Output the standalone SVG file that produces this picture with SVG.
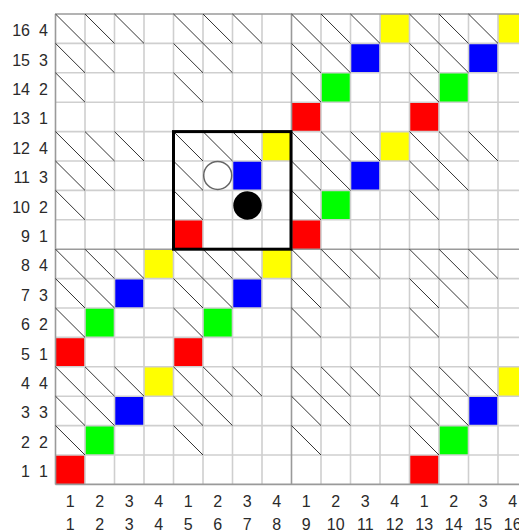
<svg xmlns="http://www.w3.org/2000/svg" xmlns:xlink="http://www.w3.org/1999/xlink" width="519" height="532" viewBox="0 0 519 532">
<style>
.lbl{font-family:"Liberation Sans",Arial,sans-serif;font-size:16px;fill:#2a2a2a}
.ns{vector-effect:non-scaling-stroke;fill:none}
.thin{stroke:#cfcfcf;stroke-width:1.6}
.thick{stroke:#9a9a9a;stroke-width:1.6}
.diag{stroke:#333;stroke-width:1}
.r{fill:#ff0000}.g{fill:#00ff00}.b{fill:#0000ff}.y{fill:#ffff00}
</style>
<defs>
<path id="tri" class="ns diag" d="M0 0l1 1M1 0l1 1M2 0l1 1M0 1l1 1M1 1l1 1M0 2l1 1"/>
<path id="tri2" class="ns diag" d="M0 0l1 1M1 0l1 1M2 0l1 1M0 1l1 1M0 2l1 1"/>
<g id="anti"><rect class="r" x="0" y="3" width="1" height="1"/><rect class="g" x="1" y="2" width="1" height="1"/><rect class="b" x="2" y="1" width="1" height="1"/><rect class="y" x="3" y="0" width="1" height="1"/></g>
</defs>
<rect width="519" height="532" fill="#fff"/>
<g id="board" transform="translate(55.5,14) scale(29.5,29.4)">
<g id="colored-cells">
<use xlink:href="#anti" x="0" y="12"/>
<use xlink:href="#anti" x="0" y="8"/>
<use xlink:href="#anti" x="4" y="8"/>
<use xlink:href="#anti" x="8" y="4"/>
<use xlink:href="#anti" x="8" y="0"/>
<use xlink:href="#anti" x="12" y="0"/>
<use xlink:href="#anti" x="12" y="12"/>
<rect class="r" x="4" y="7" width="1" height="1"/>
<rect class="b" x="6" y="5" width="1" height="1"/>
<rect class="y" x="7" y="4" width="1" height="1"/>
</g>
<g id="grid">
<path class="ns thin" d="M1 0V16M2 0V16M3 0V16M4 0V16M5 0V16M6 0V16M7 0V16M9 0V16M10 0V16M11 0V16M12 0V16M13 0V16M14 0V16M15 0V16M0 1H16M0 2H16M0 3H16M0 4H16M0 5H16M0 6H16M0 7H16M0 9H16M0 10H16M0 11H16M0 12H16M0 13H16M0 14H16M0 15H16"/>
<path class="ns thick" d="M0 0V16M8 0V16M16 0V16M0 0H16M0 8H16M0 16H16"/>
</g>
<g id="diagonals">
<use xlink:href="#tri" x="0" y="0"/><use xlink:href="#tri" x="4" y="0"/><use xlink:href="#tri" x="8" y="0"/><use xlink:href="#tri" x="12" y="0"/>
<use xlink:href="#tri" x="0" y="4"/><use xlink:href="#tri2" x="4" y="4"/><use xlink:href="#tri" x="8" y="4"/><use xlink:href="#tri" x="12" y="4"/>
<use xlink:href="#tri" x="0" y="8"/><use xlink:href="#tri" x="4" y="8"/><use xlink:href="#tri" x="8" y="8"/><use xlink:href="#tri" x="12" y="8"/>
<use xlink:href="#tri" x="0" y="12"/><use xlink:href="#tri" x="4" y="12"/><use xlink:href="#tri" x="8" y="12"/><use xlink:href="#tri" x="12" y="12"/>
</g>
</g>
<g id="highlight-box"><rect x="173.5" y="131.6" width="117.5" height="117.6" fill="none" stroke="#000" stroke-width="3"/></g>
<g id="white-stone"><circle cx="217.7" cy="175.4" r="14" fill="#fff" stroke="#666" stroke-width="1.5"/></g>
<g id="black-stone"><circle cx="247.5" cy="205.5" r="14.2" fill="#000"/></g>
<g id="row-labels" class="lbl" text-anchor="end">
<text x="30" y="36.2">16</text><text x="48" y="36.2">4</text>
<text x="30" y="65.6">15</text><text x="48" y="65.6">3</text>
<text x="30" y="95">14</text><text x="48" y="95">2</text>
<text x="30" y="124.4">13</text><text x="48" y="124.4">1</text>
<text x="30" y="153.8">12</text><text x="48" y="153.8">4</text>
<text x="30" y="183.2">11</text><text x="48" y="183.2">3</text>
<text x="30" y="212.6">10</text><text x="48" y="212.6">2</text>
<text x="30" y="242">9</text><text x="48" y="242">1</text>
<text x="30" y="271.4">8</text><text x="48" y="271.4">4</text>
<text x="30" y="300.8">7</text><text x="48" y="300.8">3</text>
<text x="30" y="330.2">6</text><text x="48" y="330.2">2</text>
<text x="30" y="359.6">5</text><text x="48" y="359.6">1</text>
<text x="30" y="389">4</text><text x="48" y="389">4</text>
<text x="30" y="418.4">3</text><text x="48" y="418.4">3</text>
<text x="30" y="447.8">2</text><text x="48" y="447.8">2</text>
<text x="30" y="477.2">1</text><text x="48" y="477.2">1</text>
</g>
<g id="col-labels-local" class="lbl" text-anchor="middle">
<text x="70.25" y="507">1</text><text x="99.75" y="507">2</text><text x="129.25" y="507">3</text><text x="158.75" y="507">4</text>
<text x="188.25" y="507">1</text><text x="217.75" y="507">2</text><text x="247.25" y="507">3</text><text x="276.75" y="507">4</text>
<text x="306.25" y="507">1</text><text x="335.75" y="507">2</text><text x="365.25" y="507">3</text><text x="394.75" y="507">4</text>
<text x="424.25" y="507">1</text><text x="453.75" y="507">2</text><text x="483.25" y="507">3</text><text x="512.75" y="507">4</text>
</g>
<g id="col-labels-global" class="lbl" text-anchor="middle">
<text x="70.25" y="530">1</text><text x="99.75" y="530">2</text><text x="129.25" y="530">3</text><text x="158.75" y="530">4</text>
<text x="188.25" y="530">5</text><text x="217.75" y="530">6</text><text x="247.25" y="530">7</text><text x="276.75" y="530">8</text>
<text x="306.25" y="530">9</text><text x="335.75" y="530">10</text><text x="365.25" y="530">11</text><text x="394.75" y="530">12</text>
<text x="424.25" y="530">13</text><text x="453.75" y="530">14</text><text x="483.25" y="530">15</text><text x="512.75" y="530">16</text>
</g>
</svg>
